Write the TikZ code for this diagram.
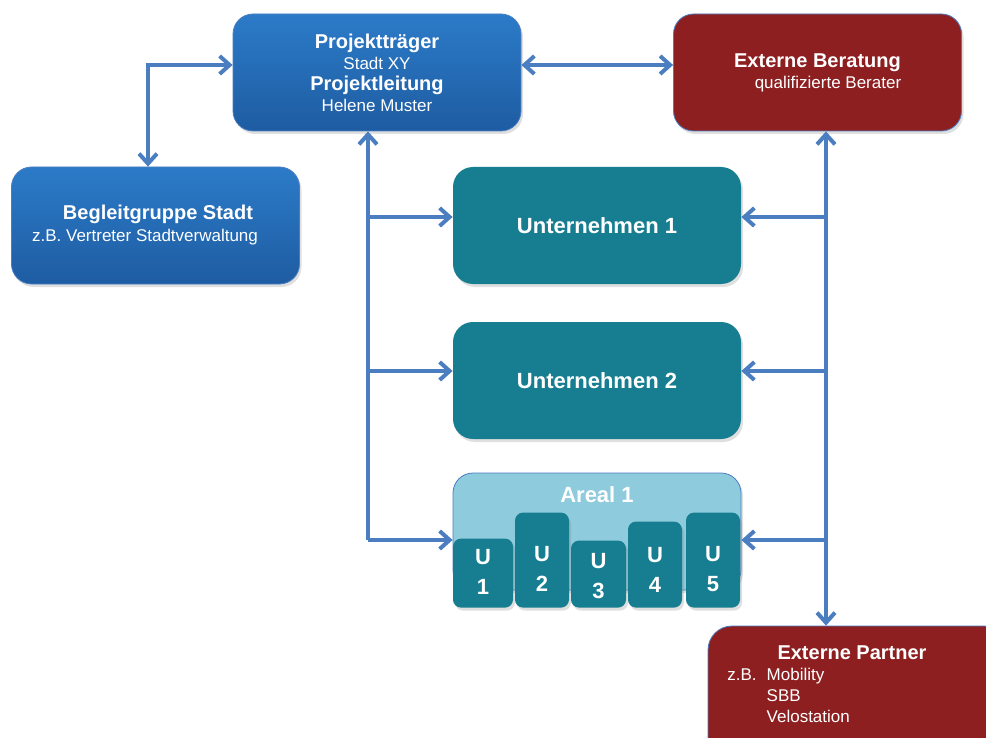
\documentclass[tikz,border=0pt]{standalone}
\usepackage{fontspec}
\setmainfont{Liberation Sans}
\usepackage{tikz}
\usetikzlibrary{arrows.meta,shadows}
\definecolor{boxblueT}{HTML}{2C7BC8}
\definecolor{boxblueB}{HTML}{1E5CA2}
\definecolor{boxred}{HTML}{8E1F21}
\definecolor{boxteal}{HTML}{177E92}
\definecolor{boxlight}{HTML}{8ECBDC}
\definecolor{lineblue}{HTML}{4A7EC1}
\tikzset{
  box/.style = {rounded corners=10pt, minimum width=144pt, minimum height=58.5pt,
                inner sep=0pt, align=center, text=white,
                drop shadow={opacity=0.25, shadow xshift=1pt, shadow yshift=-1.5pt}},
  bluebox/.style = {box, top color=boxblueT, bottom color=boxblueB, draw=lineblue, line width=0.4pt},
  redbox/.style = {box, fill=boxred, draw=lineblue, line width=0.4pt},
  tealbox/.style = {box, fill=boxteal, font=\fontsize{11}{13}\selectfont\bfseries},
  lightbox/.style = {box, fill=boxlight, draw=lineblue, line width=0.4pt},
  ubox/.style = {rounded corners=4pt, fill=boxteal, inner sep=0pt, anchor=south,
                 drop shadow={opacity=0.25, shadow xshift=1pt, shadow yshift=-1.5pt}},
  utext/.style = {text=white, align=center, font=\fontsize{11}{15}\selectfont\bfseries},
  ttl/.style = {text=white, font=\fontsize{10}{12}\selectfont\bfseries},
  sub/.style = {text=white, font=\fontsize{8.5}{10.5}\selectfont},
  arr/.style = {draw=lineblue, line width=2pt, -{Straight Barb[length=5pt,width=9pt]}},
  arrboth/.style = {draw=lineblue, line width=2pt, {Straight Barb[length=5pt,width=9pt]}-{Straight Barb[length=5pt,width=9pt]}}
}

\begin{document}
\begin{tikzpicture}[x=0.5pt,y=-0.5pt]
  \useasboundingbox (0,0) rectangle (986,738);

  % top row
  \node[bluebox, font=\fontsize{8.5}{10.5}\selectfont] (traeger) at (377,72.5) {%
    {\fontsize{10}{10.5}\selectfont\bfseries Projektträger}\\
    Stadt XY\\
    {\fontsize{10}{10.5}\selectfont\bfseries Projektleitung}\\
    Helene Muster};
  \node[redbox, font=\fontsize{8.5}{10.5}\selectfont] (beratung) at (817.5,72.5) {%
    {\fontsize{10}{10.5}\selectfont\bfseries Externe Beratung}\\
    \hspace*{10.5pt}qualifizierte Berater};
  \node[bluebox, font=\fontsize{8.5}{11}\selectfont] (begleit) at (155.5,225.5) {%
    {\fontsize{10}{11}\selectfont\bfseries\hspace*{2.5pt}Begleitgruppe Stadt}\\
    z.B. Vertreter Stadtverwaltung\hspace*{10.5pt}};

  % companies
  \node[tealbox] (unt1) at (597,225.5) {Unternehmen 1};
  \node[tealbox] (unt2) at (597,380.5) {Unternehmen 2};

  % area with its companies
  \node[lightbox] (areal) at (597,531.5) {};
  \node[ttl, font=\fontsize{11}{13}\selectfont\bfseries] (areallbl) at (597,495) {Areal 1};
  \node[ubox, minimum width=30pt, minimum height=34.5pt] (u1) at (483,608) {};
  \node[ubox, minimum width=27pt, minimum height=47.5pt] (u2) at (542,608) {};
  \node[ubox, minimum width=27.5pt, minimum height=33.5pt] (u3) at (598.5,608) {};
  \node[ubox, minimum width=27pt, minimum height=43pt] (u4) at (655,608) {};
  \node[ubox, minimum width=27pt, minimum height=47.5pt] (u5) at (713,608) {};
  \node[utext] (u1lbl) at (483,572) {U\\1};
  \node[utext] (u2lbl) at (542,569) {U\\2};
  \node[utext] (u3lbl) at (598.5,576) {U\\3};
  \node[utext] (u4lbl) at (655,570) {U\\4};
  \node[utext] (u5lbl) at (713,569) {U\\5};

  % external partners, runs off the page
  \node[redbox, rounded corners=12pt, minimum width=150pt, minimum height=70pt] (partner) at (858,696) {};
  \node[ttl] (partnerlbl) at (852,653) {Externe Partner};
  \node[sub, anchor=north west, inner sep=0pt] (partnerlist) at (727,665) {%
    \begin{tabular}{@{}l@{\hspace{5pt}}l@{}}
      z.B. & Mobility\\
           & SBB\\
           & Velostation
    \end{tabular}};

  % connectors
  \coordinate (tl) at (148,65);
  \coordinate (tr) at (521,65);
  \coordinate (ls) at (368,540);
  \coordinate (l1) at (368,217);
  \coordinate (l2) at (368,371);
  \coordinate (rs) at (826,540);
  \coordinate (r1) at (826,217);
  \coordinate (r2) at (826,371);

  \draw[arrboth] (tl |- begleit.north) -- (tl) -- (tl -| traeger.west);
  \draw[arrboth] (tr -| traeger.east) -- (tr -| beratung.west);

  \draw[arr] (ls) -- (ls |- traeger.south);
  \draw[arr] (l1) -- (l1 -| unt1.west);
  \draw[arr] (l2) -- (l2 -| unt2.west);
  \draw[arr] (ls) -- (ls -| areal.west);

  \draw[arrboth] (rs |- beratung.south) -- (rs |- partner.north);
  \draw[arr] (r1) -- (r1 -| unt1.east);
  \draw[arr] (r2) -- (r2 -| unt2.east);
  \draw[arr] (rs) -- (rs -| areal.east);
\end{tikzpicture}
\end{document}
